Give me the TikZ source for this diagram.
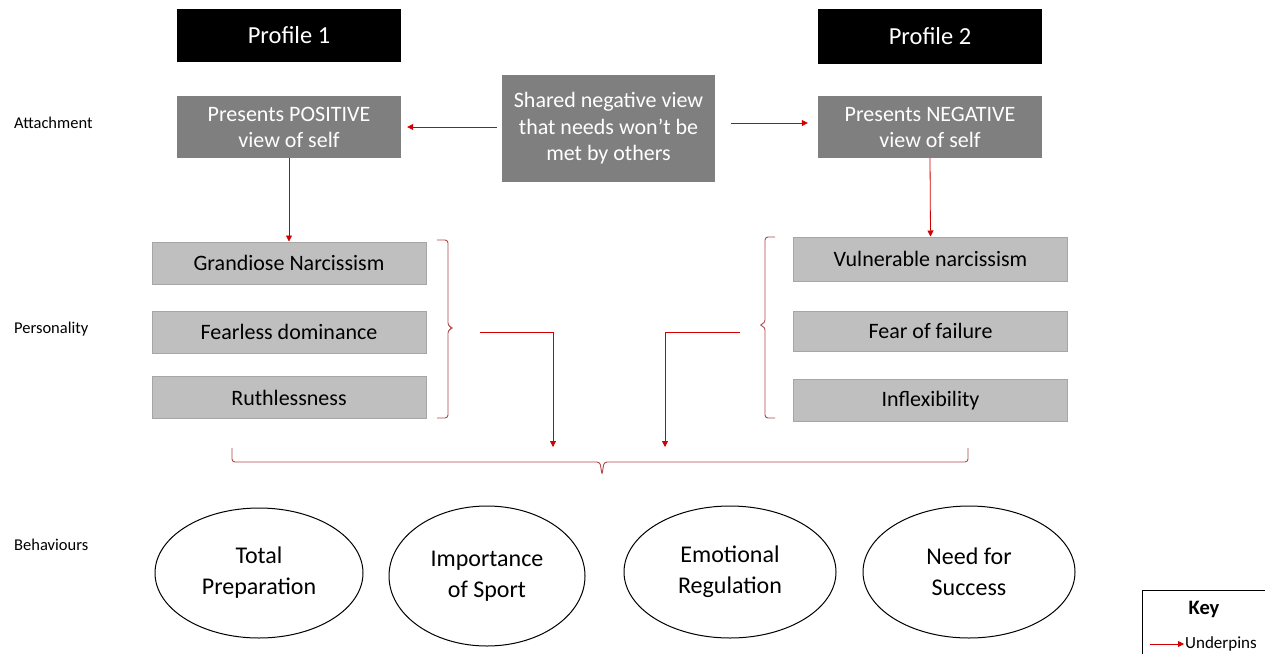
\documentclass[tikz,border=0pt]{standalone}
\usepackage{fontspec}
\setmainfont{Carlito}
\usetikzlibrary{arrows.meta,shapes.geometric,calc}
\definecolor{dgray}{HTML}{7F7F7F}
\definecolor{lgray}{HTML}{BFBFBF}
\definecolor{lborder}{HTML}{A6A6A6}
\definecolor{arrred}{HTML}{D00000}
\definecolor{brred}{HTML}{B0474A}
\begin{document}
\begin{tikzpicture}[x=1pt,y=-1pt,
  blackbox/.style={fill=black,text=white,minimum width=224pt,minimum height=53pt,inner sep=0pt,font=\fontsize{24.5}{28}\selectfont},
  darkbox/.style={fill=dgray,text=white,inner sep=0pt,align=center,font=\fontsize{22}{26}\selectfont},
  lightbox/.style={fill=lgray,draw=lborder,line width=1pt,minimum width=274pt,minimum height=42pt,inner sep=0pt,font=\fontsize{22}{26}\selectfont},
  oval/.style={ellipse,draw=black,line width=1pt,align=center,inner sep=0pt,font=\fontsize{24}{31}\selectfont},
  rowlabel/.style={anchor=west,font=\fontsize{16.5}{19}\selectfont,inner sep=0pt},
  arr/.style={draw=arrred,line width=0.8pt,-{Triangle[length=6pt,width=6pt]}},
  brace/.style={draw=brred,line width=0.9pt}
]
\useasboundingbox (0,0) rectangle (1265,653);
\fill[white] (0,0) rectangle (1265,653);

% row labels
\node[rowlabel] (la) at (14,123) {Attachment};
\node[rowlabel] (lp) at (14,329) {Personality};
\node[rowlabel] (lb) at (14,545) {Behaviours};

% profiles
\node[blackbox] (p1) at (289,35) {Profile 1};
\node[blackbox,minimum height=55pt] (p2) at (930,36) {Profile 2};

% attachment boxes
\node[darkbox,minimum width=224pt,minimum height=62pt] (pos) at (289,127) {Presents POSITIVE\\view of self};
\node[darkbox,minimum width=213pt,minimum height=107pt,font=\fontsize{22}{26.5}\selectfont] (shared) at (608.5,128.5) {Shared negative view\\that needs won’t be\\met by others};
\node[darkbox,minimum width=224pt,minimum height=62pt] (neg) at (930,127) {Presents NEGATIVE\\view of self};

\draw[arr] ($(shared.west)+(-5,-1.5)$) -- ($(pos.east)+(6,0)$);
\draw[arr] ($(shared.east)+(16,-5.5)$) -- ($(neg.west)+(-10,-4)$);

% personality boxes
\node[lightbox] (gn) at (289,263) {Grandiose Narcissism};
\node[lightbox] (fd) at (289,332) {Fearless dominance};
\node[lightbox] (ru) at (289,397.5) {Ruthlessness};
\node[lightbox,minimum height=44pt] (vn) at (930.5,259) {Vulnerable narcissism};
\node[lightbox,minimum height=40pt] (ff) at (930.5,331) {Fear of failure};
\node[lightbox] (in) at (930.5,400.5) {Inflexibility};

\draw[arr] (pos.south) -- (gn.north);
\draw[arr] (neg.south) -- (vn.north);

% braces personality
\draw[brace,rounded corners=3pt] (437,240) -- (448,240) -- (448,326) -- (453,328) -- (448,330) -- (448,418) -- (437,418);
\draw[brace,rounded corners=3pt] (775,237) -- (765,237) -- (765,323) -- (759,325) -- (765,327) -- (765,418) -- (775,418);

% bottom brace
\draw[brace,rounded corners=3pt] (232,448) -- (232,462) -- (600,462) -- (602,475) -- (604,462) -- (968,462) -- (968,448);

\coordinate (lbr) at (480,332);
\coordinate (rbr) at (740,332);
\coordinate (lend) at (553,447);
\coordinate (rend) at (665,447);
\draw[arr] (lbr) -| (lend);
\draw[arr] (rbr) -| (rend);

% behaviours
\node[oval,minimum width=208pt,minimum height=130pt] (tp) at (259,573) {Total\\Preparation};
\node[oval,minimum width=196pt,minimum height=140pt] (is) at (487,576) {Importance\\of Sport};
\node[oval,minimum width=212pt,minimum height=132pt] (er) at (730,572) {Emotional\\Regulation};
\node[oval,minimum width=212pt,minimum height=132pt] (ns) at (969,572) {Need for\\Success};

% key
\node[draw=black,line width=0.8pt,minimum width=126pt,minimum height=66pt,inner sep=0pt,anchor=north west] (key) at (1142,590) {};
\node[font=\bfseries\fontsize{20.5}{24}\selectfont,inner sep=0pt] (keyt) at (1204,609) {Key};
\node[font=\fontsize{17}{19}\selectfont,inner sep=0pt,anchor=west] (und) at (1185,644) {Underpins};
\coordinate (ks) at ($(und.west)+(-35,0)$);
\draw[arr,line width=0.8pt,-{Triangle[length=6pt,width=6pt]}] (ks) -- ($(und.west)+(-1,0)$);
\end{tikzpicture}
\end{document}
